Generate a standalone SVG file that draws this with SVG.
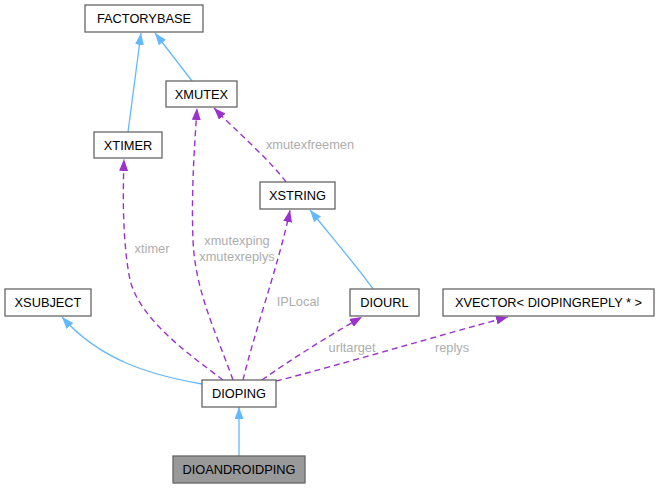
<svg xmlns="http://www.w3.org/2000/svg" width="659" height="488" viewBox="0 0 659 488">
<style>
.n rect{fill:#fff;stroke:#666;stroke-width:1.3}
.n text{font-family:"Liberation Sans",Arial,sans-serif;font-size:12.8px;fill:#000;text-anchor:middle}
.b{fill:none;stroke:#63b8ff;stroke-width:1.3;marker-end:url(#ab)}
.p{fill:none;stroke:#9a32cd;stroke-width:1.4;stroke-dasharray:6,4;marker-end:url(#ap)}
.l{font-family:"Liberation Sans",Arial,sans-serif;font-size:12.8px;fill:#adadad;text-anchor:middle}
</style>
<defs>
<marker id="ab" markerUnits="userSpaceOnUse" viewBox="0 0 12 9" markerWidth="12" markerHeight="9" refX="12" refY="4.5" orient="auto"><path d="M0,0L12,4.5L0,9z" fill="#63b8ff"/></marker>
<marker id="ap" markerUnits="userSpaceOnUse" viewBox="0 0 12 9" markerWidth="12" markerHeight="9" refX="12" refY="4.5" orient="auto"><path d="M0,0L12,4.5L0,9z" fill="#9a32cd"/></marker>
</defs>
<rect width="659" height="488" fill="#fff"/>
<g id="connectors">
<path class="b" d="M128,132 L141,33"/>
<path class="b" d="M192,81 L155,33"/>
<path class="p" d="M223,380 C190,355 140,320 130,280 C122,240 123,190 124,159"/>
<path class="p" d="M233,380 C215,330 195,290 193,240 C191,190 195,140 197,108"/>
<path class="p" d="M286,182 C270,160 235,130 214,108"/>
<path class="p" d="M243,380 C255,330 280,260 290,210"/>
<path class="b" d="M373,289 C360,270 330,235 310,210"/>
<path class="p" d="M262,380 C290,360 330,335 362,317"/>
<path class="p" d="M276,381 C340,365 440,335 508,317"/>
<path class="b" d="M202,384 C150,375 100,360 62,317"/>
<path class="b" d="M239,456 L239,407"/>
<text class="l" x="152" y="253">xtimer</text>
<text class="l" x="237" y="245">xmutexping</text>
<text class="l" x="237" y="261">xmutexreplys</text>
<text class="l" x="310" y="149">xmutexfreemen</text>
<text class="l" x="298" y="306">IPLocal</text>
<text class="l" x="352" y="352">urltarget</text>
<text class="l" x="452" y="352">replys</text>
</g>
<g id="FACTORYBASE" class="n"><rect x="85" y="5" width="118" height="27"/><text x="144" y="23">FACTORYBASE</text></g>
<g id="XMUTEX" class="n"><rect x="166" y="81" width="71" height="26"/><text x="201.5" y="98.5">XMUTEX</text></g>
<g id="XTIMER" class="n"><rect x="94" y="132" width="68" height="26"/><text x="128" y="149.5">XTIMER</text></g>
<g id="XSTRING" class="n"><rect x="260" y="182" width="75" height="27"/><text x="297.5" y="200">XSTRING</text></g>
<g id="XSUBJECT" class="n"><rect x="5" y="289" width="86" height="27"/><text x="48" y="307">XSUBJECT</text></g>
<g id="DIOURL" class="n"><rect x="350" y="289" width="69" height="27"/><text x="384.5" y="307">DIOURL</text></g>
<g id="XVECTOR" class="n"><rect x="443" y="289" width="211" height="27"/><text x="548.5" y="307">XVECTOR&lt; DIOPINGREPLY * &gt;</text></g>
<g id="DIOPING" class="n"><rect x="202" y="380" width="74" height="27"/><text x="239" y="398">DIOPING</text></g>
<g id="DIOANDROIDPING" class="n"><rect x="173" y="456" width="132" height="27" style="fill:#999"/><text x="239" y="474">DIOANDROIDPING</text></g>
</svg>
